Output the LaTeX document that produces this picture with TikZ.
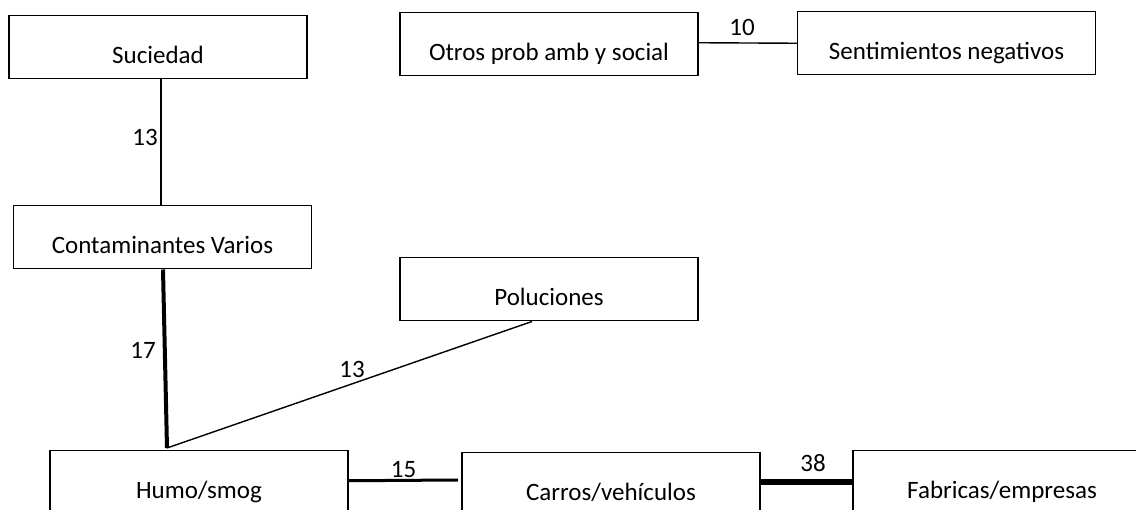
\documentclass[tikz,border=0pt]{standalone}
\usepackage{fontspec}
\setmainfont{Carlito}
\begin{document}
\begin{tikzpicture}[x=1pt,y=-1pt,
  box/.style={draw=black,line width=1.5pt,rectangle,inner sep=0pt,
    minimum width=298pt,text height=48pt,text depth=15pt,anchor=north,
    font=\fontsize{25}{30}\selectfont,fill=white},
  lab/.style={anchor=base,inner sep=0pt,font=\fontsize{25}{30}\selectfont},
  thin/.style={line width=1.4pt},
  mid/.style={line width=3pt},
  thick/.style={line width=4pt},
  vthick/.style={line width=6pt}]
\useasboundingbox (0,0) rectangle (1136,510);
\clip (0,0) rectangle (1136,510);
\fill[white] (0,0) rectangle (1136,510);
% nodes
\node[box] (suc) at (158,15) {Suciedad};
\node[box] (cont) at (162.5,205) {Contaminantes Varios};
\node[box] (pol) at (549,257) {Poluciones};
\node[box] (otros) at (549,12) {Otros prob amb y social};
\node[box] (sent) at (946.5,11) {Sentimientos negativos};
\node[box] (humo) at (199,450) {Humo/smog};
\node[box] (carros) at (611,452) {Carros/vehículos};
\node[box] (fab) at (1002,450) {Fabricas/empresas};
\coordinate (j) at (167,448);
\coordinate (c15) at (458,480);
% connectors
\draw[thin] ([xshift=3pt]suc.south) -- ([xshift=-1.5pt]cont.north);
\draw[thick] ([xshift=0.5pt]cont.south) -- (j);
\draw[thin] ([xshift=-17pt]pol.south) -- (j);
\draw[mid] ([yshift=1.5pt]humo.east) -- (c15);
\draw[vthick] ([yshift=2pt]carros.east) -- (fab.west);
\draw[thin] ([yshift=1.5pt]otros.east) -- (sent.west);
% labels
\node[lab] (l1) at (145,146) {13};
\node[lab] (l2) at (143,359) {17};
\node[lab] (l3) at (352,378) {13};
\node[lab] (l4) at (403.5,478) {15};
\node[lab] (l5) at (813,472) {38};
\node[lab] (l6) at (742,36) {10};
\end{tikzpicture}
\end{document}
